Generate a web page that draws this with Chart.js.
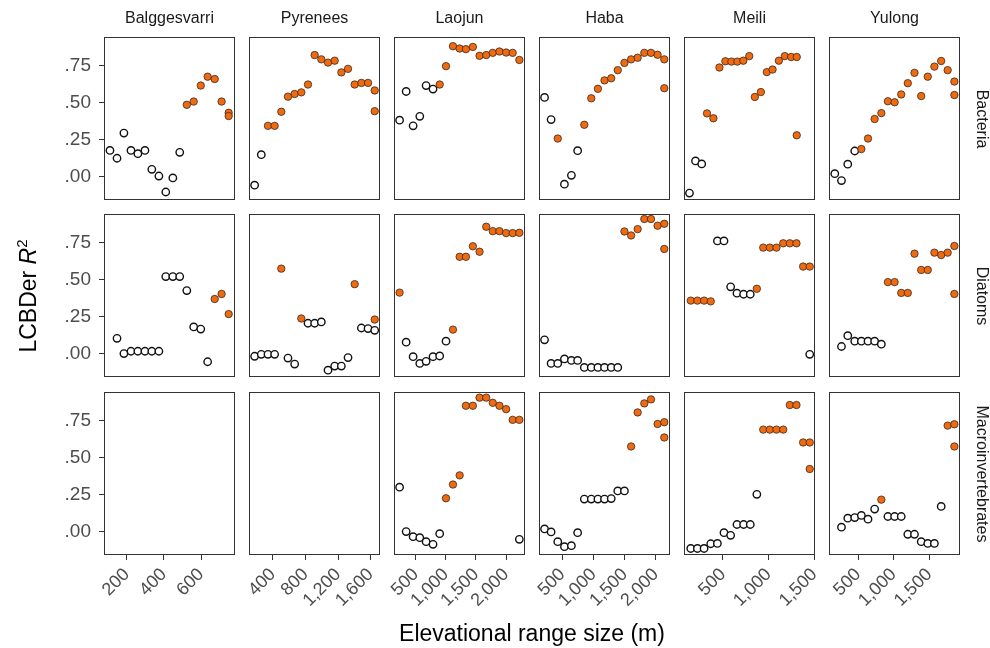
<!DOCTYPE html>
<html>
<head>
<meta charset="utf-8">
<script src="https://cdn.jsdelivr.net/npm/chart.js@4.4.1/dist/chart.umd.min.js"></script>
<style>
  body { margin: 0; background: #fff; width: 990px; height: 648px; position: relative; overflow: hidden;
         font-family: 'Liberation Sans', Arial, Helvetica, sans-serif; }
  .box { position: absolute; }
  .strip { position: absolute; font-size: 16px; line-height: 18px; height: 18px; color: #1a1a1a;
           text-align: center; white-space: nowrap; }
  .title { position: absolute; font-size: 23px; line-height: 28px; height: 28px; color: #000;
           text-align: center; white-space: nowrap; }
</style>
</head>
<body>
<script>
// facets
const sites = ['Balggesvarri', 'Pyrenees', 'Laojun', 'Haba', 'Meili', 'Yulong'];
const groups = ['Bacteria', 'Diatoms', 'Macroinvertebrates'];

// axes
const xTickVals = [[200, 400, 600], [400, 800, 1200, 1600], [500, 1000, 1500, 2000],
                   [500, 1000, 1500, 2000], [500, 1000, 1500], [500, 1000, 1500]];
const xLimits = [[78, 782], [106, 1716], [137, 2316], [124, 2226], [73, 1508], [93, 1930]];
const yTickVals = [0, 0.25, 0.5, 0.75];
const yLimits = [-0.158, 0.943];

// Balggesvarri
const balBacX = [110,148,185,223,260,298,335,373,410,448,485,523,560,598,635,673,710,748,748];
const balBacY = [.177,.124,.294,.177,.155,.177,.049,.004,-.104,-.009,.164,.485,.507,.615,.675,.659,.507,.431,.409];
const balBacSig = [0,0,0,0,0,0,0,0,0,0,0,1,1,1,1,1,1,1,1];
const balDiaX = [148,185,223,260,298,335,373,410,448,485,523,560,598,635,673,710,748];
const balDiaY = [.103,0,.016,.016,.016,.016,.016,.520,.520,.520,.426,.180,.166,-.055,.369,.403,.267];
const balDiaSig = [0,0,0,0,0,0,0,0,0,0,0,0,0,0,1,1,1];

// Pyrenees
const pyrX = [175,257,339,421,503,585,667,749,831,913,995,1077,1159,1241,1323,1405,1487,1569,1651,1651];
const pyrBacY = [-.058,.148,.343,.343,.438,.540,.558,.569,.622,.821,.792,.770,.783,.704,.728,.622,.633,.633,.582,.442];
const pyrBacSig = [0,0,1,1,1,1,1,1,1,1,1,1,1,1,1,1,1,1,1,1];
const pyrDiaY = [-.018,-.005,-.005,-.005,.574,-.030,-.071,.237,.205,.205,.214,-.112,-.084,-.084,-.027,.469,.173,.169,.157,.230];
const pyrDiaSig = [0,0,0,0,1,0,0,1,0,0,0,0,0,0,0,1,0,0,0,1];

// Laojun
const laoX = [230,339,455,566,671,786,897,1002,1118,1229,1333,1449,1560,1671,1780,1891,2002,2111,2222];
const laoBacY = [.381,.575,.343,.407,.615,.591,.622,.746,.881,.865,.861,.876,.816,.821,.836,.845,.838,.836,.788];
const laoBacSig = [0,0,0,0,0,0,1,1,1,1,1,1,1,1,1,1,1,1,1];
const laoDiaY = [.412,.077,-.021,-.066,-.052,-.021,-.016,.084,.162,.654,.654,.725,.688,.857,.827,.827,.814,.814,.816];
const laoDiaSig = [1,0,0,0,0,0,0,0,1,1,1,1,1,1,1,1,1,1,1];
const laoMacX = [230,339,455,566,671,786,897,1002,1118,1229,1333,1449,1560,1671,1780,1891,2002,2111,2222,2222];
const laoMacY = [.300,0,-.034,-.041,-.068,-.086,-.014,.225,.318,.380,.850,.850,.905,.905,.870,.850,.827,.755,.755,-.052];
const laoMacSig = [0,0,0,0,0,0,0,1,1,1,1,1,1,1,1,1,1,1,1,0];

// Haba
const habX = [213,318,425,532,644,744,851,963,1069,1175,1283,1388,1495,1602,1707,1814,1921,2027,2134,2134];
const habBacY = [.535,.385,.257,-.051,.009,.175,.350,.529,.593,.650,.664,.719,.768,.792,.803,.836,.836,.823,.792,.597];
const habBacSig = [0,0,1,0,0,0,1,1,1,1,1,1,1,1,1,1,1,1,1,1];
const habDiaY = [.093,-.066,-.066,-.036,-.046,-.046,-.093,-.093,-.093,-.093,-.093,-.093,.825,.798,.841,.909,.909,.864,.877,.707];
const habDiaSig = [0,0,0,0,0,0,0,0,0,0,0,0,1,1,1,1,1,1,1,1];
const habMacY = [.018,-.002,-.068,-.102,-.095,-.007,.220,.220,.220,.220,.223,.275,.275,.575,.805,.866,.893,.727,.739,.636];
const habMacSig = [0,0,0,0,0,0,0,0,0,0,0,0,0,1,1,1,1,1,1,1];

// Meili
const meiBacX = [133,199,267,325,395,461,526,592,657,723,788,849,915,980,1043,1112,1177,1247,1308,1308];
const meiBacY = [-.111,.106,.086,.427,.394,.737,.779,.777,.777,.783,.814,.538,.571,.706,.723,.783,.814,.808,.808,.279];
const meiBacSig = [0,0,0,1,1,1,1,1,1,1,1,1,1,1,1,1,1,1,1,1];
const meiX = [147,220,293,366,439,511,584,653,726,799,871,941,1013,1086,1160,1232,1305,1378,1450,1450];
const meiDiaY = [.358,.358,.358,.353,.761,.761,.451,.408,.401,.401,.438,.716,.716,.716,.745,.745,.745,.588,.588,-.005];
const meiDiaSig = [1,1,1,1,0,0,0,0,0,0,1,1,1,1,1,1,1,1,1,0];
const meiMacY = [-.114,-.114,-.114,-.082,-.080,-.007,-.025,.048,.048,.048,.252,.689,.689,.689,.689,.855,.855,.602,.602,.423];
const meiMacSig = [0,0,0,0,0,0,0,0,0,0,0,1,1,1,1,1,1,1,1,1];

// Yulong
const yulBacX = [174,268,356,454,547,640,733,827,919,1013,1106,1198,1292,1386,1478,1571,1666,1757,1851,1851];
const yulBacY = [.020,-.027,.084,.173,.186,.257,.389,.429,.509,.502,.555,.631,.701,.544,.675,.743,.781,.719,.642,.551];
const yulBacSig = [0,0,0,0,1,1,1,1,1,1,1,1,1,1,1,1,1,1,1,1];
const yulX = [268,356,454,547,640,733,827,919,1013,1106,1198,1292,1386,1478,1571,1666,1757,1851,1851];
const yulDiaY = [.048,.121,.084,.084,.084,.084,.064,.483,.483,.410,.410,.675,.565,.565,.682,.666,.682,.727,.403];
const yulDiaSig = [0,0,0,0,0,0,0,1,1,1,1,1,1,1,1,1,1,1,1];
const yulMacY = [.030,.091,.095,.109,.084,.152,.216,.102,.102,.102,-.018,-.018,-.068,-.080,-.080,.170,.716,.725,.575];
const yulMacSig = [0,0,0,0,0,0,1,0,0,0,0,0,0,0,0,0,1,1,1];

// rows = groups, columns = sites; null = no data
const panels = [
  [[balBacX, balBacY, balBacSig], [pyrX, pyrBacY, pyrBacSig], [laoX, laoBacY, laoBacSig],
   [habX, habBacY, habBacSig], [meiBacX, meiBacY, meiBacSig], [yulBacX, yulBacY, yulBacSig]],
  [[balDiaX, balDiaY, balDiaSig], [pyrX, pyrDiaY, pyrDiaSig], [laoX, laoDiaY, laoDiaSig],
   [habX, habDiaY, habDiaSig], [meiX, meiDiaY, meiDiaSig], [yulX, yulDiaY, yulDiaSig]],
  [null, null, [laoMacX, laoMacY, laoMacSig],
   [habX, habMacY, habMacSig], [meiX, meiMacY, meiMacSig], [yulX, yulMacY, yulMacSig]]
];

const ORANGE = '#f06a10';
const FONT = "'Liberation Sans', Arial, Helvetica, sans-serif";
const panelLeft = [104, 249, 394, 539, 684, 829];
const panelTop = [37, 214, 392];
const PW = 131, PH = 163, PAD = 24, YW = 64, XH = 66;

function commas(v) {
  return String(v).replace(/\B(?=(\d{3})+(?!\d))/g, ',');
}

// panel border on top of the points, like ggplot
const framePlugin = {
  id: 'frame',
  afterDatasetsDraw(chart) {
    const a = chart.chartArea, ctx = chart.ctx;
    ctx.save();
    ctx.strokeStyle = '#333';
    ctx.lineWidth = 1;
    ctx.strokeRect(Math.round(a.left) + 0.5, Math.round(a.top) + 0.5,
                   Math.round(a.right - a.left) - 1, Math.round(a.bottom - a.top) - 1);
    ctx.restore();
  }
};

function makePanel(r, c, d) {
  const isLeft = c === 0, isBottom = r === 2;
  const box = document.createElement('div');
  box.className = 'box';
  box.style.left = (panelLeft[c] - PAD - (isLeft ? YW : 0)) + 'px';
  box.style.top = (panelTop[r] - PAD) + 'px';
  box.style.width = (PW + 2 * PAD + (isLeft ? YW : 0)) + 'px';
  box.style.height = (PH + 2 * PAD + (isBottom ? XH : 0)) + 'px';
  const cv = document.createElement('canvas');
  box.appendChild(cv);
  document.body.appendChild(box);

  const pts = d ? d[0].map((x, i) => ({ x: x, y: d[1][i] })) : [];
  const sig = d ? d[2] : [];

  new Chart(cv, {
    type: 'scatter',
    data: {
      datasets: [{
        data: pts,
        pointRadius: 3.7,
        pointBackgroundColor: sig.map(s => s ? ORANGE : '#ffffff'),
        pointBorderColor: sig.map(s => s ? '#3a2a20' : '#111111'),
        pointBorderWidth: sig.map(s => s ? 0.8 : 1.4),
        clip: false
      }]
    },
    options: {
      responsive: true,
      maintainAspectRatio: false,
      animation: false,
      events: [],
      layout: { padding: PAD },
      plugins: { legend: { display: false }, tooltip: { enabled: false } },
      scales: {
        x: {
          type: 'linear',
          min: xLimits[c][0], max: xLimits[c][1],
          display: isBottom,
          border: { display: false },
          grid: { display: true, drawOnChartArea: false, drawTicks: true, tickLength: 5, color: '#333' },
          ticks: {
            autoSkip: false, minRotation: 45, maxRotation: 45, padding: 4,
            color: '#4d4d4d', font: { size: 18, family: FONT },
            callback: v => commas(v)
          },
          afterBuildTicks: s => { s.ticks = xTickVals[c].map(v => ({ value: v })); },
          afterFit: s => { if (isBottom) s.height = XH; }
        },
        y: {
          type: 'linear',
          min: yLimits[0], max: yLimits[1],
          display: isLeft,
          border: { display: false },
          grid: { display: true, drawOnChartArea: false, drawTicks: true, tickLength: 5, color: '#333' },
          ticks: {
            autoSkip: false, padding: 8,
            color: '#4d4d4d', font: { size: 19, family: FONT },
            callback: v => v.toFixed(2).replace(/^0/, '')
          },
          afterBuildTicks: s => { s.ticks = yTickVals.map(v => ({ value: v })); },
          afterFit: s => { if (isLeft) s.width = YW; }
        }
      }
    },
    plugins: [framePlugin]
  });
}

for (let r = 0; r < 3; r++) {
  for (let c = 0; c < 6; c++) makePanel(r, c, panels[r][c]);
}

// strip labels
sites.forEach((s, c) => {
  const el = document.createElement('div');
  el.className = 'strip';
  el.textContent = s;
  el.style.left = panelLeft[c] + 'px';
  el.style.width = PW + 'px';
  el.style.top = '9px';
  document.body.appendChild(el);
});
groups.forEach((g, r) => {
  const el = document.createElement('div');
  el.className = 'strip';
  el.textContent = g;
  const cy = panelTop[r] + PH / 2;
  el.style.left = (981 - PH / 2) + 'px';
  el.style.width = PH + 'px';
  el.style.top = (cy - 9) + 'px';
  el.style.transform = 'rotate(90deg)';
  document.body.appendChild(el);
});

// axis titles
const yTitle = document.createElement('div');
yTitle.className = 'title';
yTitle.innerHTML = 'LCBDer <i>R</i><sup style="font-size:15px;vertical-align:9px;line-height:0">2</sup>';
yTitle.style.left = (28 - 150) + 'px';
yTitle.style.width = '300px';
yTitle.style.top = (296 - 14) + 'px';
yTitle.style.transform = 'rotate(-90deg)';
document.body.appendChild(yTitle);

const xTitle = document.createElement('div');
xTitle.className = 'title';
xTitle.textContent = 'Elevational range size (m)';
xTitle.style.left = (532 - 300) + 'px';
xTitle.style.width = '600px';
xTitle.style.top = (633 - 14) + 'px';
document.body.appendChild(xTitle);
</script>
</body>
</html>
